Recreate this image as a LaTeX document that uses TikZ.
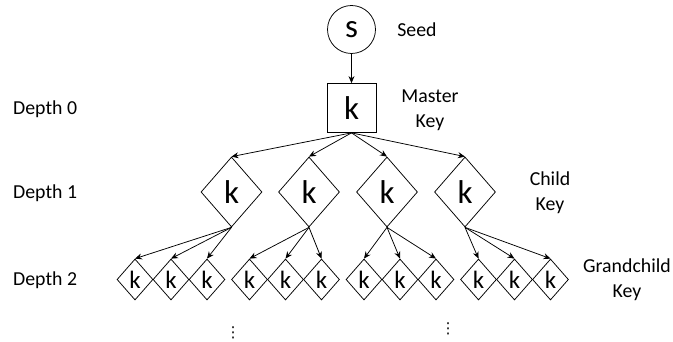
\documentclass[tikz,border=0pt]{standalone}
\usepackage{fontspec}
\setmainfont{Carlito}
\newfontfamily\dvfont{DejaVu Sans}
\usetikzlibrary{shapes.geometric,arrows.meta}
\tikzset{
  every node/.style={inner sep=0pt},
  conn/.style={draw, line width=0.75pt, -{Stealth[length=7pt,width=6pt]}},
  seedc/.style={circle, draw, line width=0.75pt, minimum size=48pt, font=\fontsize{33}{36}\selectfont},
  masterbox/.style={rectangle, draw, line width=0.75pt, minimum size=49pt, font=\fontsize{33}{36}\selectfont},
  childd/.style={diamond, draw, line width=0.75pt, minimum width=61pt, minimum height=70pt, font=\fontsize{33}{36}\selectfont},
  grandd/.style={diamond, draw, line width=0.75pt, minimum width=36pt, minimum height=41pt, font=\fontsize{25}{28}\selectfont},
  lbl/.style={font=\fontsize{19.8}{25}\selectfont, align=center},
  dotsl/.style={font=\dvfont\fontsize{15}{18}\selectfont},
}
\begin{document}
\begin{tikzpicture}[x=1pt,y=-1pt]
\useasboundingbox (0,0) rectangle (673,342);
\node[seedc] (s) at (351.5,29.5) {s};
\node[masterbox] (m) at (351.5,108) {k};
\foreach \i/\x in {1/231.5,2/309,3/387,4/465}{
  \node[childd] (c\i) at (\x,192) {k};
}
\foreach \g/\gx in {1/135,2/249.5,3/364,4/478.5}{
  \foreach \j in {1,2,3}{
    \node[grandd] (g\g\j) at ({\gx+36*(\j-1)},279.5) {k};
  }
}
\draw[conn] (s) -- (m);
\foreach \i in {1,2,3,4}{
  \draw[conn] (m.south) -- (c\i.north);
  \foreach \j in {1,2,3}{
    \draw[conn] (c\i.south) -- (g\i\j.north);
  }
}
\node[lbl] (seedl) at (417,30) {Seed};
\node[lbl] (masterl) at (430,110) {Master\\Key};
\node[lbl] (childl) at (550,193) {Child\\Key};
\node[lbl] (grandl) at (627,280) {Grandchild\\Key};
\node[lbl, anchor=west] (d0) at (13,109) {Depth 0};
\node[lbl, anchor=west] (d1) at (13,193) {Depth 1};
\node[lbl, anchor=west] (d2) at (13,280) {Depth 2};
\node[dotsl] (v1) at (233,333) {⋮};
\node[dotsl] (v2) at (448,328.5) {⋮};
\end{tikzpicture}
\end{document}
